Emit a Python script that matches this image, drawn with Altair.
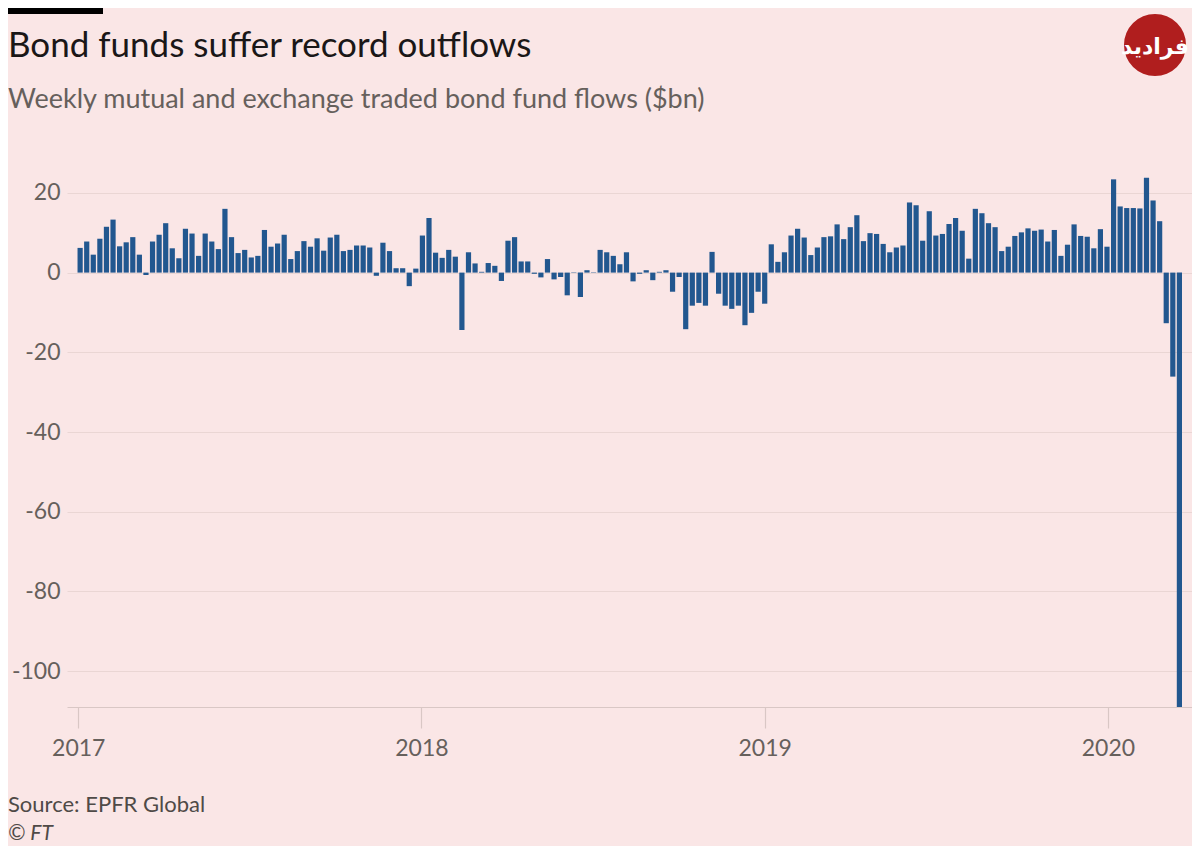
import altair as alt
import pandas as pd

# Weekly bond fund flows ($bn)
flows_2017 = [6.2, 7.8, 4.5, 8.5, 11.5, 13.3, 6.6, 7.6, 8.9, 4.5, -0.6, 7.8, 9.5,
              12.4, 6.1, 3.6, 11.0, 9.8, 4.2, 9.8, 7.8, 5.9, 16.0, 8.9, 4.9, 5.7,
              3.8, 4.2, 10.7, 6.5, 7.3, 9.5, 3.4, 5.4, 7.9, 6.5, 8.6, 5.5, 8.8,
              9.5, 5.4, 5.7, 6.8, 6.8, 6.3, -0.8, 7.5, 5.4, 1.1, 1.1, -3.4, 1.0]
flows_2018 = [9.3, 13.7, 5.0, 3.7, 5.7, 4.0, -14.4, 5.1, 2.3, 0.2, 2.4, 1.7, -2.1,
              8.0, 8.9, 2.8, 2.8, -0.3, -1.2, 3.4, -1.7, -1.1, -5.7, 0.1, -6.1, 0.6,
              0.1, 5.7, 5.1, 4.2, 2.1, 5.1, -2.2, -0.3, 0.6, -1.9, 0.2, 0.6, -4.8,
              -1.1, -14.2, -8.3, -7.6, -8.3, 5.2, -5.3, -8.3, -9.1, -8.3, -13.2, -10.1, -4.8]
flows_2019 = [-7.8, 7.1, 2.7, 5.1, 9.3, 11.0, 8.8, 4.4, 6.3, 8.9, 9.1, 12.1, 8.4,
              11.4, 14.4, 7.9, 9.9, 9.7, 7.2, 5.1, 6.3, 6.8, 17.6, 16.9, 8.0, 15.4,
              9.3, 9.7, 12.2, 13.7, 10.5, 3.5, 16.0, 14.9, 12.4, 11.4, 5.4, 6.5, 9.2,
              10.1, 11.1, 10.5, 10.8, 7.8, 10.7, 4.2, 7.0, 12.1, 9.2, 9.0, 6.1, 10.9, 6.5]
flows_2020 = [23.4, 16.6, 16.2, 16.2, 16.1, 23.8, 18.1, 12.9, -12.7, -26.1, -109.0]

first_week = "2017-01-03"
year_ticks = [2017, 2018, 2019, 2020]
y_ticks = [20, 0, -20, -40, -60, -80, -100]

title_text = "Bond funds suffer record outflows"
subtitle_text = "Weekly mutual and exchange traded bond fund flows ($bn)"
source_line = "Source: EPFR Global"
credit_line = "© FT"
logo_word = "فرادید"

flows = flows_2017 + flows_2018 + flows_2019 + flows_2020
weeks = pd.date_range(first_week, periods=len(flows), freq="7D")
df = pd.DataFrame({"week": weeks, "flow": flows})

BG = "#fae6e6"
GRID = "#ead6d4"
AXIS = "#d9c7c5"
LABEL = "#66605c"
FONT = "Lato"

bars = alt.Chart(df).mark_bar(size=5.2, color="#22578f").encode(
    x=alt.X(
        "week:T",
        scale=alt.Scale(domain=[
            alt.DateTime(year=2016, month=12, date=25, hours=8, minutes=40),
            alt.DateTime(year=2020, month=3, date=25, hours=2),
        ]),
        axis=alt.Axis(
            values=[alt.DateTime(year=y, month=1, date=1) for y in year_ticks],
            format="%Y", title=None, grid=False,
            tickSize=21, tickColor=AXIS, domainColor=AXIS, tickWidth=1.2, domainWidth=1.2,
            labelFontSize=23, labelColor=LABEL, labelFont=FONT, labelPadding=9,
        ),
    ),
    y=alt.Y(
        "flow:Q",
        scale=alt.Scale(domain=[-109, 27], nice=False, zero=False),
        axis=alt.Axis(
            values=y_ticks, title=None, ticks=False, domain=False,
            gridColor=GRID, gridWidth=1.2,
            labelExpr="'' + datum.value",
            labelFontSize=23, labelColor=LABEL, labelFont=FONT, labelPadding=7,
            labelAlign="right", labelBaseline="middle",
        ),
    ),
)


def one(value):
    return pd.DataFrame({"t": [value]})


top_bar = alt.Chart(one("")).mark_rule(color="#000000", strokeWidth=6).encode(
    x=alt.value(-59), x2=alt.value(36), y=alt.value(-154)
)

title = alt.Chart(one(title_text)).mark_text(
    color="#1a1717", fontSize=35, font=FONT, align="left", baseline="alphabetic"
).encode(text="t:N", x=alt.value(-59), y=alt.value(-108))

subtitle = alt.Chart(one(subtitle_text)).mark_text(
    color=LABEL, fontSize=27, font=FONT, align="left", baseline="alphabetic"
).encode(text="t:N", x=alt.value(-59), y=alt.value(-57))

logo_circle = alt.Chart(one("")).mark_point(
    filled=True, size=3850, color="#b01e1e", opacity=1, shape="circle"
).encode(x=alt.value(1088), y=alt.value(-120))

logo_text = alt.Chart(one(logo_word)).mark_text(
    color="white", fontSize=22, fontWeight="bold", font="DejaVu Sans",
    align="center", baseline="middle"
).encode(text="t:N", x=alt.value(1088), y=alt.value(-118))

source_text = alt.Chart(one(source_line)).mark_text(
    color="#4f4a47", fontSize=22, font=FONT, align="left", baseline="alphabetic"
).encode(text="t:N", x=alt.value(-59), y=alt.value(647))

ft_text = alt.Chart(one(credit_line)).mark_text(
    color="#4f4a47", fontSize=21, font=FONT, fontStyle="italic", align="left",
    baseline="alphabetic"
).encode(text="t:N", x=alt.value(-59), y=alt.value(675))

chart = alt.layer(
    bars, top_bar, title, subtitle, logo_circle, logo_text, source_text, ft_text
).properties(
    width=1125,
    height=542,
    autosize=alt.AutoSizeParams(type="none"),
    padding={"left": 59, "top": 157, "right": 0, "bottom": 139},
    background=BG,
).configure_view(stroke=None)

chart.save("out.html", embed_options={"renderer": "svg", "actions": False})
